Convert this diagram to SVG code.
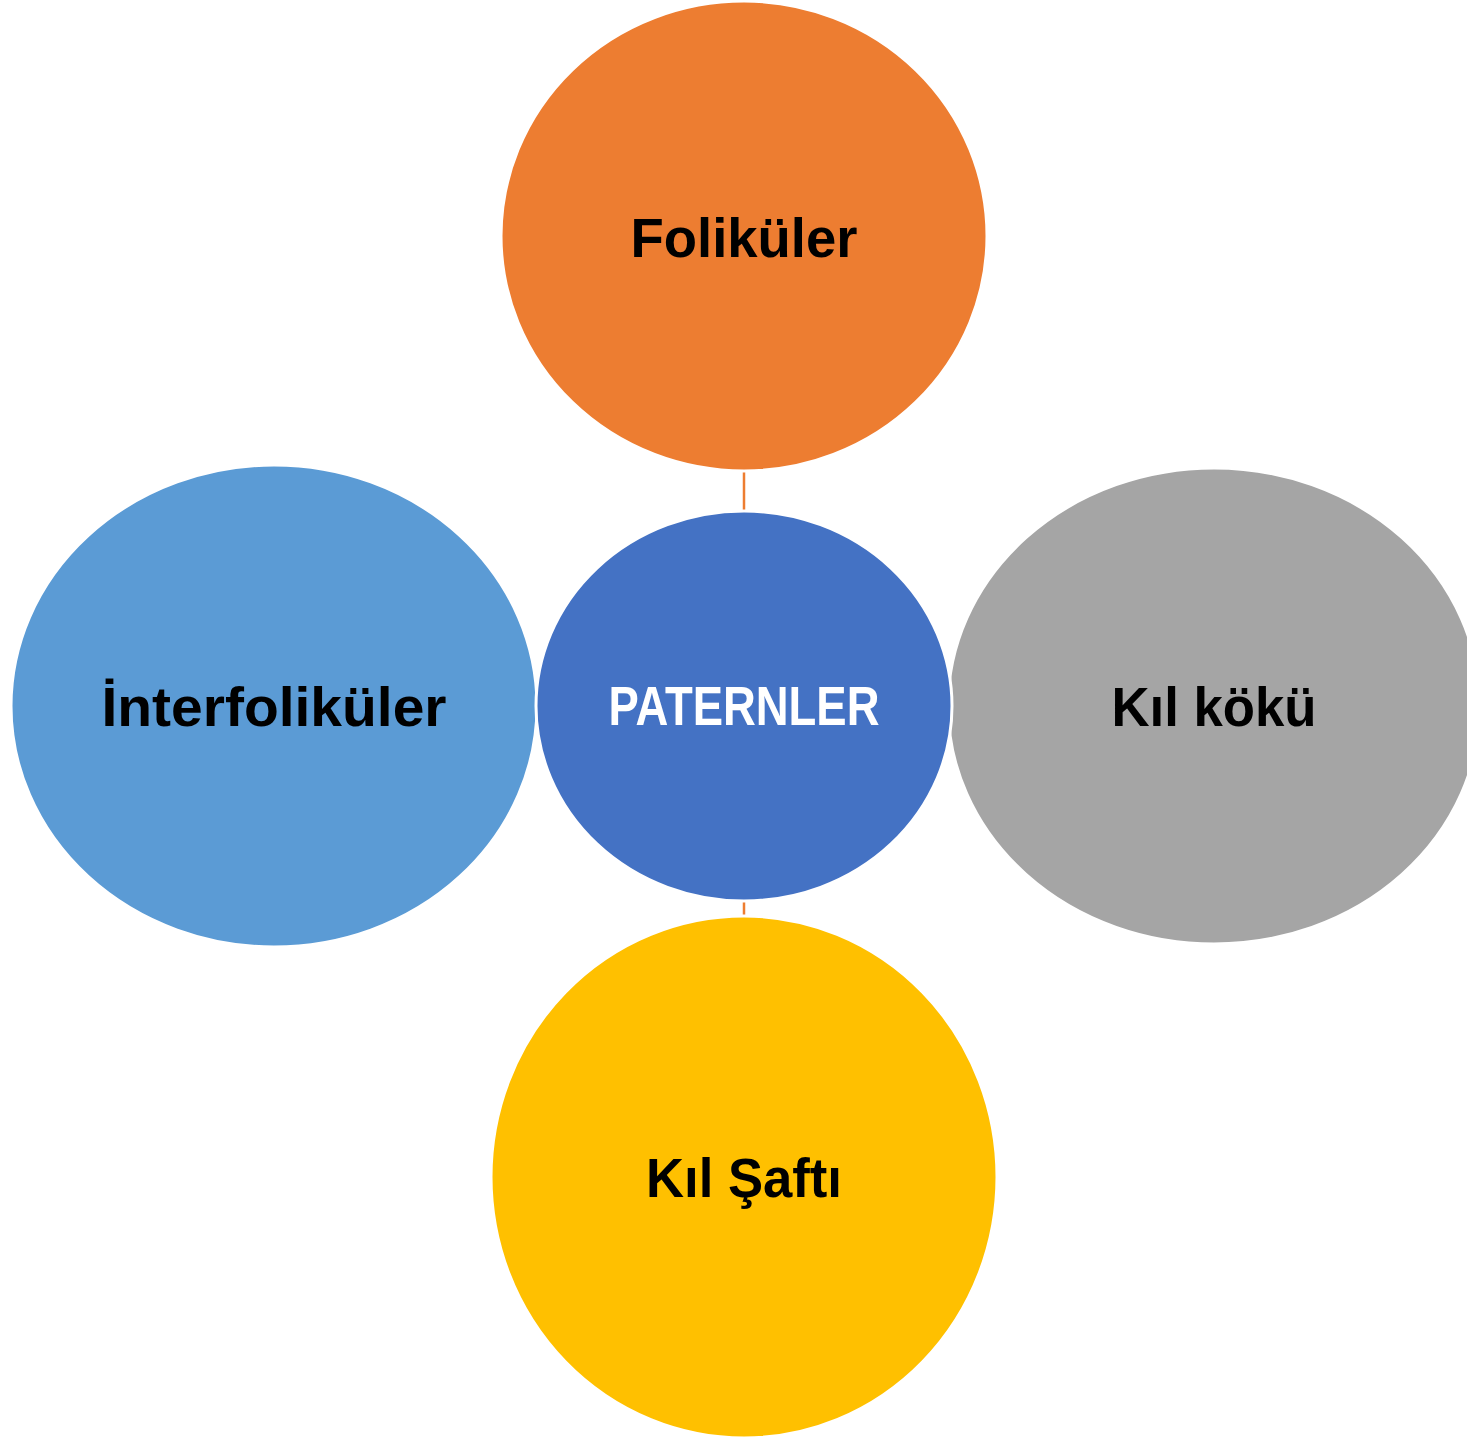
<svg xmlns="http://www.w3.org/2000/svg" width="1467" height="1440" viewBox="0 0 1467 1440">
<style>
.n{stroke:#fff;stroke-width:3}
.t{font-family:"Liberation Sans",Arial,sans-serif;font-weight:bold;font-size:56px;text-anchor:middle;fill:#000}
.w{fill:#fff}
.c{stroke:#ED7D31;stroke-width:2.5;fill:none}
</style>
<rect width="1467" height="1440" fill="#fff"/>
<g id="connectors">
<line class="c" x1="744" y1="470" x2="744" y2="512"/>
<line class="c" x1="744" y1="900" x2="744" y2="917"/>
<line class="c" x1="537" y1="706" x2="536" y2="706"/>
<line class="c" x1="951" y1="706" x2="949" y2="706"/>
</g>
<g id="node-top">
<ellipse class="n" cx="744" cy="236" rx="243" ry="235" fill="#ED7D31"/>
<text class="t" x="744" y="257" textLength="227" lengthAdjust="spacingAndGlyphs">Foliküler</text>
</g>
<g id="node-left">
<ellipse class="n" cx="274" cy="706" rx="263" ry="241" fill="#5B9BD5"/>
<text class="t" x="274" y="726" textLength="345" lengthAdjust="spacingAndGlyphs">İnterfoliküler</text>
</g>
<g id="node-right">
<ellipse class="n" cx="1214" cy="706" rx="266" ry="238" fill="#A5A5A5"/>
<text class="t" x="1214" y="726" textLength="205" lengthAdjust="spacingAndGlyphs">Kıl kökü</text>
</g>
<g id="node-bottom">
<ellipse class="n" cx="744" cy="1177" rx="253" ry="261" fill="#FFC000"/>
<text class="t" x="744" y="1197" textLength="196" lengthAdjust="spacingAndGlyphs">Kıl Şaftı</text>
</g>
<g id="node-center">
<ellipse class="n" cx="744" cy="706" rx="208" ry="195" fill="#4472C4"/>
<text class="t w" x="744" y="725" textLength="271" lengthAdjust="spacingAndGlyphs">PATERNLER</text>
</g>
</svg>
